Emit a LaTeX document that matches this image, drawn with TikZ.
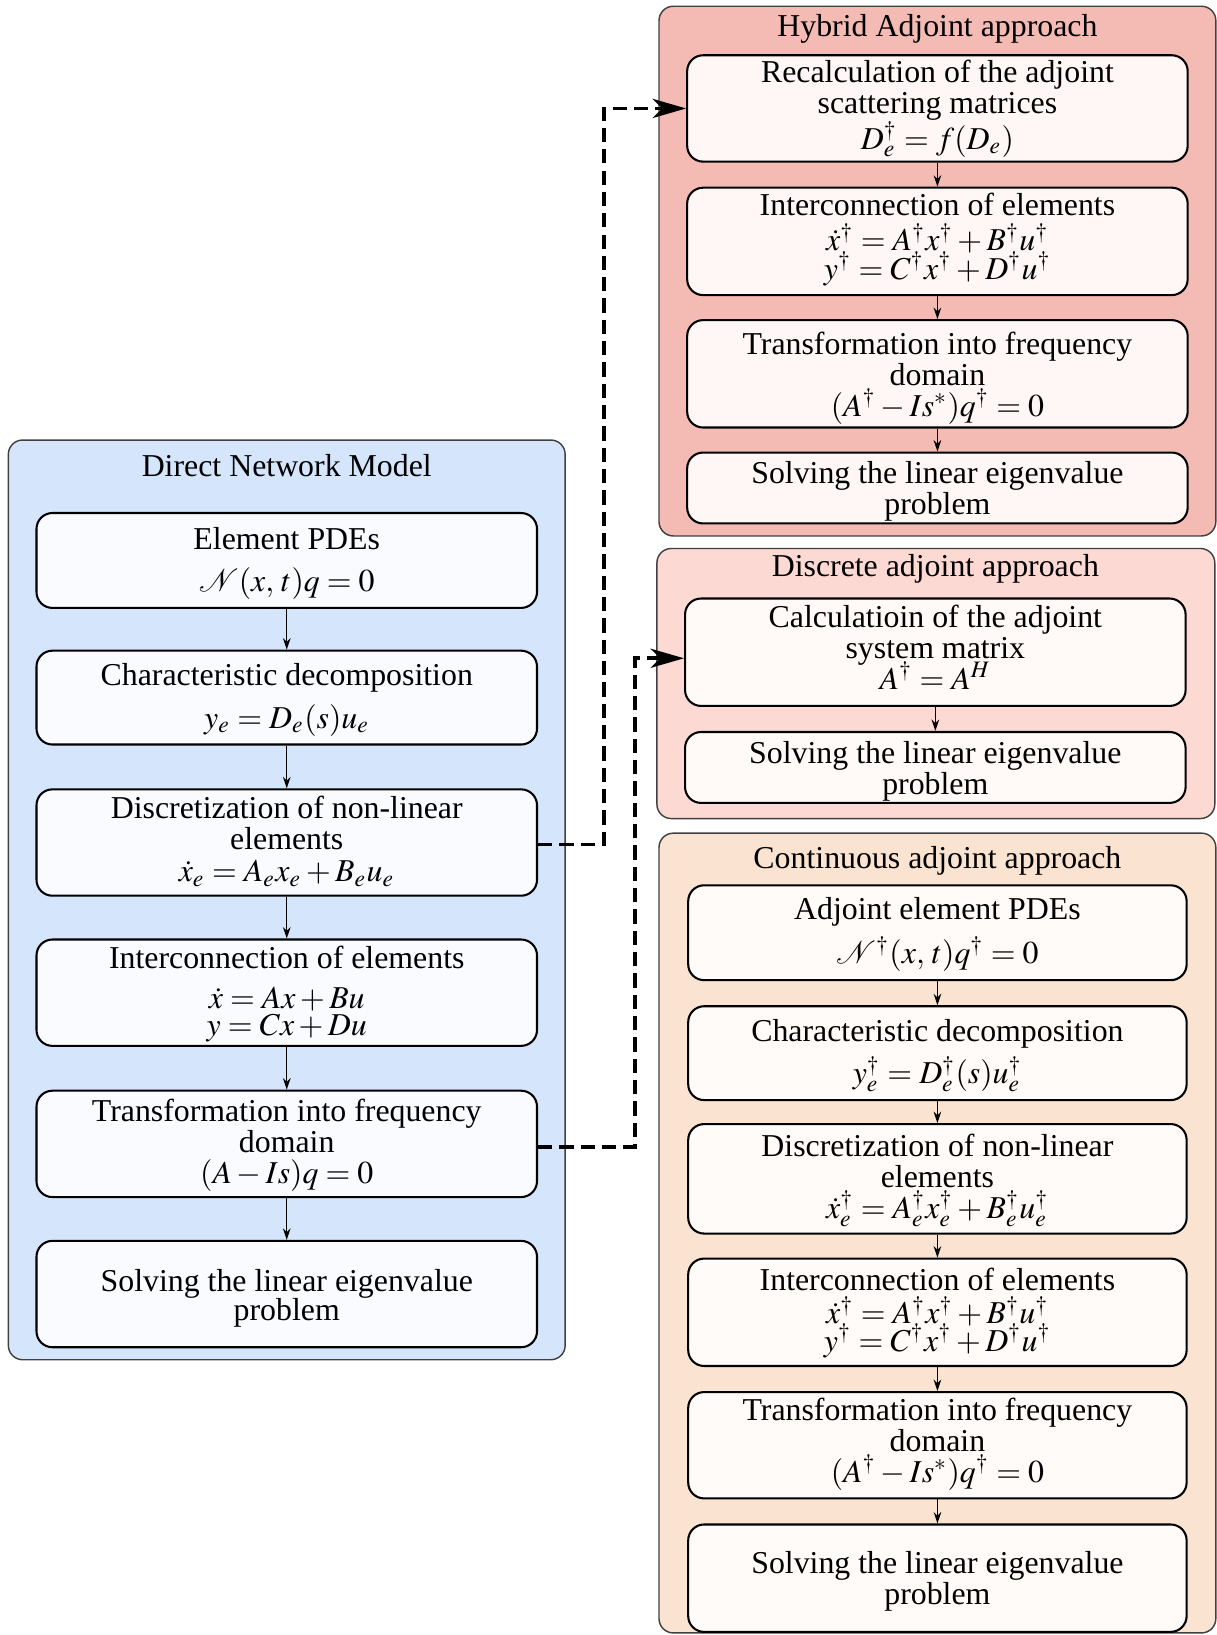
\documentclass[tikz,border=0pt]{standalone}
\usepackage{mathptmx}
\usepackage[no-math]{fontspec}
\setmainfont{Liberation Serif}
\usetikzlibrary{arrows.meta}
\definecolor{blueC}{RGB}{212,229,252}
\definecolor{hybC}{RGB}{244,187,180}
\definecolor{disC}{RGB}{253,217,211}
\definecolor{conC}{RGB}{251,227,209}
\newcommand\pxu{0.3275pt}
\tikzset{
  box/.style={draw, line width=0.65pt, rounded corners=5pt, align=center,
    inner sep=1pt, minimum width=480*\pxu, text depth=0pt,
    font={\fontsize{10}{9.7}\selectfont\lineskiplimit=-20pt}},
  cont/.style={draw=black!75, line width=0.45pt, rounded corners=4.5pt},
  ttl/.style={font=\fontsize{10}{12}\selectfont, inner sep=0pt},
  flow/.style={line width=0.4pt, -{Stealth[length=3.6pt,width=2.4pt]}},
  dasharrow/.style={line width=1.2pt, dash pattern=on 4.5pt off 2.2pt,
    -{Stealth[length=10.5pt,width=6pt,inset=3pt]}},
}
\begin{document}
\begin{tikzpicture}[x=0.3275pt, y=-0.3275pt]
\useasboundingbox (0,0) rectangle (1167,1568);

% containers
\path[cont, fill=blueC] (8,422) rectangle (542,1304);
\node[ttl] (tL) at (275,446.5) {Direct Network Model};
\path[cont, fill=hybC] (632,6) rectangle (1166,514);
\node[ttl] (tH) at (899,27.5) {Hybrid Adjoint approach};
\path[cont, fill=disC] (630,526) rectangle (1165,785);
\node[ttl] (tD) at (897,545.5) {Discrete adjoint approach};
\path[cont, fill=conC] (632,799) rectangle (1166,1566);
\node[ttl] (tC) at (899,825.5) {Continuous adjoint approach};

% direct model
\tikzset{lb/.style={box, fill=blueC!15!white}}
\node[lb, minimum height=91*\pxu, text height=19.5pt] (L1) at (275,537.5) {Element PDEs\\[3.5pt] $\mathcal{N}(x,\,t)q=0$};
\node[lb, minimum height=90*\pxu, text height=19.1pt] (L2) at (275,669) {Characteristic decomposition\\[3.5pt] $y_e=D_e(s)u_e$};
\node[lb, minimum height=102*\pxu, text height=24.6pt] (L3) at (275,808) {Discretization of non-linear\\ elements\\[0.5pt] $\dot{x}_e=A_ex_e+B_eu_e$};
\node[lb, minimum height=102*\pxu, text height=27.2pt] (L4) at (275,952) {Interconnection of elements\\[3pt] $\dot{x}=Ax+Bu$\\[-1.2pt] $y=Cx+Du$};
\node[lb, minimum height=102*\pxu, text height=25pt] (L5) at (275,1097) {Transformation into frequency\\ domain\\ $(A-Is)q=0$};
\node[lb, minimum height=102*\pxu, text height=16.5pt] (L6) at (275,1241) {Solving the linear eigenvalue\\[-0.5pt] problem};

% hybrid
\tikzset{hb/.style={box, fill=hybC!12!white}}
\node[hb, minimum height=102*\pxu, text height=25.5pt] (H1) at (899,104) {Recalculation of the adjoint\\ scattering matrices\\[1.5pt] $D_e^\dagger=f(D_e)$};
\node[hb, minimum height=103*\pxu, text height=23.8pt] (H2) at (899,231.5) {Interconnection of elements\\[1.5pt] $\dot{x}^\dagger=A^\dagger x^\dagger+B^\dagger u^\dagger$\\[-0.8pt] $y^\dagger=C^\dagger x^\dagger+D^\dagger u^\dagger$};
\node[hb, minimum height=103*\pxu, text height=26.5pt] (H3) at (899,358.5) {Transformation into frequency\\ domain\\ $(A^\dagger-Is^*)q^\dagger=0$};
\node[hb, minimum height=68*\pxu, text height=16.8pt] (H4) at (899,468) {Solving the linear eigenvalue\\ problem};

% discrete
\tikzset{db/.style={box, fill=disC!15!white}}
\node[db, minimum height=103*\pxu, text height=23.3pt] (D1) at (897,625.5) {Calculatioin of the adjoint\\ system matrix\\ $A^\dagger=A^H$};
\node[db, minimum height=68*\pxu, text height=16.8pt] (D2) at (897,736) {Solving the linear eigenvalue\\ problem};

% continuous
\tikzset{cb/.style={box, fill=conC!15!white, minimum width=478*\pxu}}
\node[cb, minimum height=91*\pxu, text height=19.4pt] (C1) at (899,894.5) {Adjoint element PDEs\\[4.1pt] $\mathcal{N}^\dagger(x,\,t)q^\dagger=0$};
\node[cb, minimum height=90*\pxu, text height=19.1pt] (C2) at (899,1010) {Characteristic decomposition\\[3.4pt] $y_e^\dagger=D_e^\dagger(s)u_e^\dagger$};
\node[cb, minimum height=105*\pxu, text height=24.7pt] (C3) at (899,1130.5) {Discretization of non-linear\\ elements\\ $\dot{x}_e^\dagger=A_e^\dagger x_e^\dagger+B_e^\dagger u_e^\dagger$};
\node[cb, minimum height=103*\pxu, text height=24.4pt] (C4) at (899,1258.5) {Interconnection of elements\\[0.8pt] $\dot{x}^\dagger=A^\dagger x^\dagger+B^\dagger u^\dagger$\\[-1.1pt] $y^\dagger=C^\dagger x^\dagger+D^\dagger u^\dagger$};
\node[cb, minimum height=102*\pxu, text height=23.4pt] (C5) at (899,1386) {Transformation into frequency\\ domain\\ $(A^\dagger-Is^*)q^\dagger=0$};
\node[cb, minimum height=103*\pxu, text height=16.5pt] (C6) at (899,1513.5) {Solving the linear eigenvalue\\ problem};

% flows
\foreach \a/\b in {L1/L2,L2/L3,L3/L4,L4/L5,L5/L6,H1/H2,H2/H3,H3/H4,D1/D2,C1/C2,C2/C3,C3/C4,C4/C5,C5/C6}
  \draw[flow] (\a) -- (\b);

% dashed links
\draw[dasharrow] ([yshift=-0.6pt]L3.east) -- ++(63,0) |- (H1.west);
\draw[dasharrow] ([yshift=-0.9pt]L5.east) -- ++(93,0) |- ([yshift=-1.9pt]D1.west);
\end{tikzpicture}
\end{document}
